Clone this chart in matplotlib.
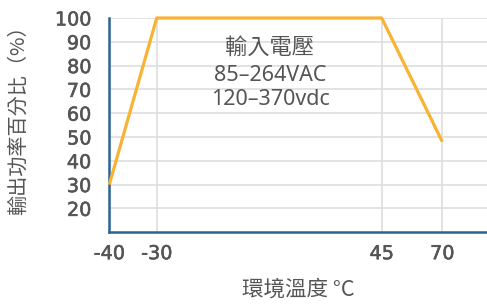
import numpy as np
import matplotlib
matplotlib.use("Agg")
import matplotlib.pyplot as plt
import matplotlib.patheffects as pe

plt.rcParams['font.family'] = ['Noto Sans CJK TC', 'DejaVu Sans']

# derating curve
temps = [-40, -30, 45, 70]
power = [30, 100, 100, 48]
x_ticks = [-40, -30, 45, 70]
y_ticks = [20, 30, 40, 50, 60, 70, 80, 90, 100]
note_lines = ["輸入電壓", "85–264VAC", "120–370vdc"]

# x axis is not linear in the original, map ticks to fixed spacing
anchor_val = [-40, -30, 45, 70, 88.3]
anchor_pos = [0.0, 47.4, 272.4, 333.0, 377.7]

def fwd(v):
    return np.interp(v, anchor_val, anchor_pos)

def inv(p):
    return np.interp(p, anchor_pos, anchor_val)

fig = plt.figure(figsize=(4.87, 3.05), dpi=100)
ax = fig.add_axes([109.3 / 487, 1 - 231.7 / 305, 1 - 109.3 / 487, (231.7 - 18) / 305])
ax.set_xscale('function', functions=(fwd, inv))

ax.plot(temps, power, color='#f9b233', lw=2.3, solid_capstyle='butt', zorder=3, clip_on=False)

ax.set_xlim(-40, 88.3)
ax.set_ylim(10.2, 100)
ax.set_xticks(x_ticks)
ax.set_yticks(y_ticks)
ax.set_xticklabels([str(t) for t in x_ticks])
ax.set_yticklabels([str(t) for t in y_ticks])
ax.xaxis.set_minor_locator(plt.NullLocator())

# tick numbers are a bit heavier than regular in the original
for lab in ax.get_xticklabels() + ax.get_yticklabels():
    lab.set_family('DejaVu Sans')
    lab.set_fontsize(13.8)
    lab.set_color('#555555')
    lab.set_path_effects([pe.withStroke(linewidth=0.4, foreground='#555555')])

ax.tick_params(length=0)
ax.tick_params(axis='x', pad=9)
ax.tick_params(axis='y', pad=13)

ax.grid(True, color='#e0e0e0', lw=1.3, zorder=0)
ax.set_axisbelow(True)

for s in ['top', 'right']:
    ax.spines[s].set_visible(False)
for s in ['left', 'bottom']:
    ax.spines[s].set_color('#2a6496')
    ax.spines[s].set_linewidth(1.8)

ax.set_ylabel("輸出功率百分比（%）", fontsize=14.5, color='#555555')
ax.yaxis.set_label_coords(-(109.3 - 18) / 377.7, (231.7 - 115) / 213.7)
ax.yaxis.label.set_va('center')
ax.set_xlabel("環境溫度 °C", fontsize=15.5, color='#555555')
ax.xaxis.set_label_coords((298 - 109.3) / 377.7, -(290 - 231.7) / 213.7)
ax.xaxis.label.set_va('center')

note_y = [47, 75, 100]
for line, y_px in zip(note_lines, note_y):
    if line == note_lines[0]:
        fig.text(270 / 487, 1 - y_px / 305, line, ha='center', va='center',
                 fontsize=16, color='#555555', family=['Noto Sans CJK TC'])
    else:
        fig.text(270 / 487, 1 - y_px / 305, line, ha='center', va='center',
                 fontsize=15.5, color='#555555', family=['Noto Sans', 'DejaVu Sans'])

fig.savefig("out.png", dpi=100)
